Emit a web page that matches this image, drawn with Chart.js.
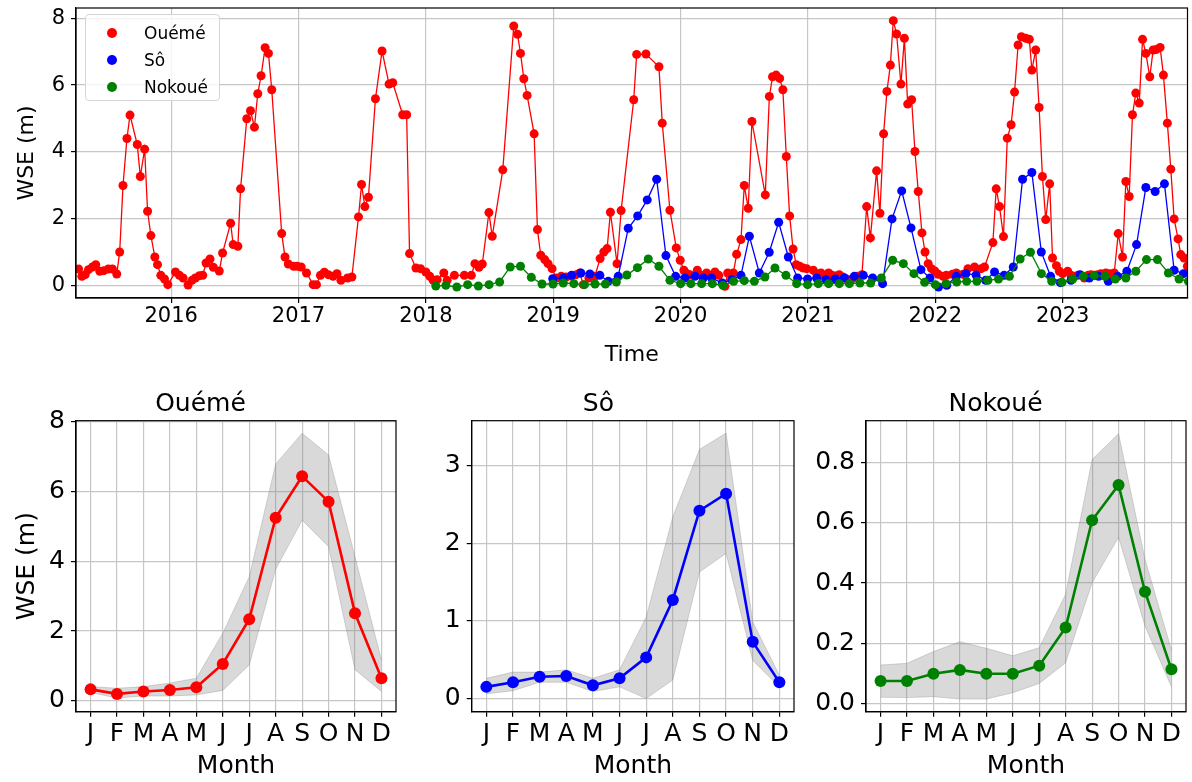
<!DOCTYPE html>
<html>
<head>
<meta charset="utf-8">
<script src="https://cdn.jsdelivr.net/npm/chart.js@4.4.1/dist/chart.umd.min.js"></script>
<style>
  html, body { margin: 0; padding: 0; background: #fff; }
  #page { position: relative; width: 1192px; height: 782px; overflow: hidden; font-family: 'DejaVu Sans', sans-serif; }
  canvas { position: absolute; }
  #legend { position: absolute; left: 85px; top: 14px; width: 135px; height: 87px; border: 1px solid #d5d5d5;
            border-radius: 4px; background: rgba(255,255,255,0.8); box-sizing: border-box; z-index: 2; }
  .item { position: absolute; left: 0; height: 20px; font-size: 17px; line-height: 20px; color: #000; }
  .dot { position: absolute; width: 10px; height: 10px; border-radius: 50%; left: 21px; top: 5px; }
  .lab { position: absolute; left: 58px; top: 0; white-space: nowrap; }
</style>
</head>
<body>
<div id="page">
  <canvas id="top" width="1192" height="380" style="left:0;top:0"></canvas>
  <canvas id="m1" width="402" height="402" style="left:0;top:380px"></canvas>
  <canvas id="m2" width="400" height="402" style="left:400px;top:380px"></canvas>
  <canvas id="m3" width="392" height="402" style="left:800px;top:380px"></canvas>
  <div id="legend"></div>
</div>
<script>
// ---- time series (decimal year, WSE in m) ----
const ouemeT = [2015.273,2015.299,2015.325,2015.351,2015.382,2015.408,2015.440,2015.471,2015.507,2015.539,2015.573,2015.596,2015.622,2015.653,2015.677,2015.734,2015.758,2015.792,2015.815,2015.841,2015.872,2015.893,2015.919,2015.948,2015.974,
  2016.034,2016.065,2016.094,2016.133,2016.164,2016.190,2016.222,2016.248,2016.274,2016.305,2016.331,2016.378,2016.404,2016.467,2016.487,2016.524,2016.545,2016.594,2016.623,2016.654,2016.680,2016.706,2016.738,2016.764,2016.790,2016.868,2016.894,2016.920,2016.962,2016.990,
  2017.021,2017.063,2017.115,2017.141,2017.172,2017.203,2017.234,2017.271,2017.302,2017.333,2017.385,2017.419,2017.471,2017.495,2017.521,2017.549,2017.604,2017.656,2017.711,2017.740,2017.818,2017.849,2017.872,2017.922,2017.958,
  2018.000,2018.031,2018.057,2018.089,2018.141,2018.167,2018.224,2018.302,2018.357,2018.385,2018.417,2018.443,2018.495,2018.521,2018.604,2018.690,2018.720,2018.743,2018.769,2018.795,2018.850,2018.876,2018.902,2018.933,2018.959,2018.991,
  2019.024,2019.063,2019.100,2019.144,2019.180,2019.209,2019.236,2019.280,2019.327,2019.368,2019.397,2019.423,2019.449,2019.501,2019.533,2019.632,2019.655,2019.728,2019.830,2019.856,2019.916,2019.966,2019.997,
  2020.026,2020.050,2020.073,2020.131,2020.160,2020.204,2020.240,2020.270,2020.300,2020.348,2020.370,2020.414,2020.440,2020.474,2020.500,2020.531,2020.560,2020.665,2020.697,2020.722,2020.750,2020.778,2020.803,2020.830,2020.856,2020.883,2020.908,2020.935,2020.963,2020.990,
  2021.042,2021.070,2021.102,2021.130,2021.162,2021.190,2021.220,2021.246,2021.275,2021.300,2021.325,2021.350,2021.390,2021.424,2021.461,2021.490,2021.539,2021.565,2021.594,2021.620,2021.647,2021.670,2021.696,2021.730,2021.757,2021.783,2021.814,2021.840,2021.866,2021.895,2021.919,2021.944,2021.970,2021.996,
  2022.022,2022.061,2022.087,2022.134,2022.165,2022.217,2022.256,2022.308,2022.360,2022.386,2022.452,2022.478,2022.504,2022.535,2022.565,2022.595,2022.622,2022.650,2022.676,2022.710,2022.738,2022.758,2022.788,2022.815,2022.841,2022.867,2022.898,2022.920,2022.951,2022.974,
  2023.000,2023.039,2023.065,2023.091,2023.120,2023.170,2023.200,2023.222,2023.250,2023.274,2023.300,2023.339,2023.370,2023.405,2023.436,2023.470,2023.496,2023.522,2023.548,2023.574,2023.601,2023.627,2023.653,2023.684,2023.710,2023.736,2023.765,2023.791,2023.822,2023.849,2023.875,2023.906,2023.927,2023.953,2023.979,2023.995];
const ouemeV = [0.49,0.27,0.32,0.47,0.55,0.62,0.42,0.44,0.49,0.49,0.34,1.00,2.99,4.40,5.10,4.22,3.26,4.08,2.22,1.49,0.85,0.62,0.30,0.19,0.02,
  0.40,0.30,0.22,0.01,0.15,0.22,0.29,0.30,0.67,0.79,0.54,0.43,0.97,1.86,1.22,1.17,2.89,4.99,5.23,4.74,5.74,6.28,7.12,6.95,5.86,1.55,0.85,0.64,0.57,0.57,
  0.55,0.37,0.02,0.02,0.30,0.39,0.32,0.27,0.35,0.15,0.22,0.25,2.05,3.02,2.36,2.64,5.59,7.02,6.03,6.07,5.11,5.11,0.95,0.52,0.50,
  0.40,0.27,0.15,0.17,0.37,0.15,0.30,0.30,0.30,0.65,0.54,0.64,2.18,1.47,3.46,7.77,7.52,6.95,6.19,5.69,4.54,1.67,0.90,0.77,0.65,0.50,
  0.22,0.27,0.25,0.28,0.32,0.37,0.02,0.22,0.27,0.80,1.00,1.10,2.19,0.65,2.24,5.56,6.92,6.93,6.55,4.86,2.25,1.12,0.75,
  0.45,0.35,0.32,0.45,0.30,0.37,0.30,0.40,0.30,-0.03,0.37,0.37,0.93,1.37,2.99,2.31,4.91,2.71,5.66,6.25,6.30,6.20,5.86,3.86,2.08,1.09,0.62,0.57,0.52,0.50,
  0.45,0.35,0.37,0.30,0.37,0.30,0.28,0.32,0.25,0.20,0.12,0.20,0.27,0.32,2.36,1.42,3.43,2.16,4.54,5.81,6.60,7.93,7.53,6.03,7.40,5.43,5.56,4.01,2.81,1.57,1.00,0.65,0.50,0.43,
  0.33,0.27,0.30,0.33,0.37,0.33,0.50,0.55,0.50,0.55,1.28,2.89,2.36,1.46,4.41,4.81,5.79,7.20,7.45,7.40,7.37,6.45,7.05,5.33,3.26,1.97,3.04,0.82,0.59,0.42,
  0.35,0.42,0.30,0.27,0.30,0.22,0.30,0.32,0.30,0.32,0.35,0.37,0.35,0.37,1.55,0.85,3.11,2.66,5.11,5.76,5.46,7.37,6.95,6.25,7.05,7.07,7.13,6.30,4.86,3.48,1.99,1.39,0.92,0.82,0.57,0.45];

const soT = [2018.996,2019.079,2019.144,2019.217,2019.288,2019.366,2019.432,2019.510,2019.589,2019.663,2019.738,2019.812,2019.885,2019.961,
  2020.034,2020.113,2020.178,2020.243,2020.327,2020.401,2020.474,2020.540,2020.618,2020.696,2020.770,2020.846,2020.919,2020.997,
  2021.068,2021.141,2021.215,2021.285,2021.364,2021.435,2021.508,2021.586,2021.660,2021.736,2021.809,2021.887,2021.958,
  2022.025,2022.090,2022.165,2022.240,2022.320,2022.395,2022.465,2022.540,2022.612,2022.685,2022.758,2022.832,2022.905,2022.982,
  2023.065,2023.136,2023.209,2023.282,2023.358,2023.431,2023.504,2023.580,2023.653,2023.726,2023.799,2023.875,2023.948];
const soV = [0.20,0.22,0.30,0.37,0.34,0.30,0.12,0.27,1.71,2.08,2.56,3.18,0.89,0.27,
  0.22,0.27,0.22,0.22,0.07,0.17,0.30,1.47,0.37,0.99,1.89,0.85,0.22,0.19,
  0.22,0.17,0.19,0.22,0.27,0.30,0.22,0.05,1.99,2.83,1.72,0.47,0.22,
  -0.05,0.00,0.27,0.35,0.31,0.15,0.40,0.30,0.55,3.18,3.38,1.00,0.27,0.08,
  0.15,0.32,0.22,0.27,0.12,0.27,0.42,1.22,2.93,2.81,3.04,0.45,0.35];

const nokoueT = [2018.078,2018.157,2018.243,2018.328,2018.412,2018.496,2018.579,2018.662,2018.743,2018.828,2018.912,2018.998,
  2019.079,2019.162,2019.245,2019.328,2019.410,2019.496,2019.578,2019.661,2019.746,2019.830,2019.916,2020.000,
  2020.081,2020.165,2020.249,2020.332,2020.416,2020.500,2020.579,2020.662,2020.741,2020.827,2020.911,2020.997,
  2021.081,2021.162,2021.246,2021.325,2021.408,2021.492,2021.576,2021.665,2021.749,2021.832,2021.916,2022.000,
  2022.084,2022.168,2022.246,2022.326,2022.413,2022.496,2022.582,2022.666,2022.747,2022.833,2022.914,2022.995,
  2023.078,2023.162,2023.248,2023.332,2023.413,2023.496,2023.574,2023.658,2023.744,2023.830,2023.914,2023.987];
const nokoueV = [-0.02,0.00,-0.05,0.02,-0.02,0.02,0.10,0.55,0.57,0.24,0.04,0.04,
  0.07,0.05,0.02,0.04,0.04,0.10,0.31,0.53,0.79,0.57,0.15,0.05,
  0.05,0.05,0.05,0.00,0.12,0.14,0.12,0.25,0.52,0.30,0.05,0.02,
  0.05,0.05,0.05,0.05,0.07,0.07,0.22,0.75,0.65,0.35,0.09,0.02,
  0.05,0.10,0.12,0.12,0.15,0.19,0.27,0.79,0.99,0.35,0.12,0.09,
  0.19,0.27,0.29,0.27,0.19,0.22,0.42,0.77,0.77,0.37,0.19,0.12];

const seriesNames = ['Ouémé', 'Sô', 'Nokoué'];
const seriesColors = ['#ff0000', '#0000ff', '#008000'];
const seriesT = [ouemeT, soT, nokoueT];
const seriesV = [ouemeV, soV, nokoueV];

const yearTicks = [2016, 2017, 2018, 2019, 2020, 2021, 2022, 2023];
const wseTicksTop = [0, 2, 4, 6, 8];

// ---- monthly climatology: mean and envelope ----
const months = [1, 2, 3, 4, 5, 6, 7, 8, 9, 10, 11, 12];
const monthLabels = ['J', 'F', 'M', 'A', 'M', 'J', 'J', 'A', 'S', 'O', 'N', 'D'];

const ouemeMean  = [0.33, 0.20, 0.27, 0.31, 0.39, 1.06, 2.34, 5.25, 6.44, 5.71, 2.51, 0.65];
const ouemeUpper = [0.41, 0.36, 0.41, 0.51, 0.65, 1.94, 3.56, 6.79, 7.67, 7.05, 4.13, 1.17];
const ouemeLower = [0.24, 0.08, 0.14, 0.14, 0.17, 0.30, 1.03, 3.77, 5.18, 4.42, 0.89, 0.27];

const soMean  = [0.15, 0.21, 0.28, 0.29, 0.17, 0.26, 0.53, 1.27, 2.42, 2.64, 0.73, 0.21];
const soUpper = [0.26, 0.34, 0.34, 0.37, 0.26, 0.37, 1.05, 2.34, 3.21, 3.42, 0.99, 0.30];
const soLower = [0.06, 0.10, 0.21, 0.21, 0.09, 0.15, 0.00, 0.24, 1.63, 1.87, 0.49, 0.15];

const nokoueMean  = [0.074, 0.074, 0.098, 0.111, 0.098, 0.098, 0.125, 0.252, 0.609, 0.726, 0.371, 0.113];
const nokoueUpper = [0.127, 0.133, 0.172, 0.205, 0.183, 0.158, 0.185, 0.363, 0.811, 0.897, 0.479, 0.177];
const nokoueLower = [0.020, 0.019, 0.022, 0.014, 0.014, 0.035, 0.066, 0.135, 0.401, 0.552, 0.257, 0.055];

const ouemeTicks = [0, 2, 4, 6, 8];
const soTicks = [0, 1, 2, 3];
const nokoueTicks = [0, 0.2, 0.4, 0.6, 0.8];

Chart.defaults.font.family = "'DejaVu Sans', sans-serif";
Chart.defaults.color = '#000';

const gridColor = '#c6c6c6';

// matplotlib style box around the axes
const frame = {
  id: 'frame',
  afterDraw(chart) {
    const { ctx, chartArea: a } = chart;
    ctx.save();
    ctx.strokeStyle = '#000';
    ctx.lineWidth = 1.2;
    ctx.strokeRect(a.left, a.top, a.right - a.left, a.bottom - a.top);
    ctx.restore();
  }
};

const fixedTicks = values => scale => { scale.ticks = values.map(v => ({ value: v })); };
const pts = (xs, ys) => xs.map((x, i) => ({ x: x, y: ys[i] }));

// top panel
new Chart(document.getElementById('top'), {
  type: 'scatter',
  data: {
    datasets: seriesNames.map((name, k) => ({
      label: name,
      data: pts(seriesT[k], seriesV[k]),
      showLine: true,
      borderColor: seriesColors[k],
      backgroundColor: seriesColors[k],
      borderWidth: 1.3,
      pointRadius: 4.5,
      pointBorderWidth: 0,
      order: 3 - k
    }))
  },
  options: {
    responsive: false,
    animation: false,
    devicePixelRatio: 1,
    layout: { padding: { top: 8, right: 2, left: 0, bottom: 0 } },
    plugins: { legend: { display: false }, tooltip: { enabled: false } },
    scales: {
      x: {
        type: 'linear',
        min: 2015.253,
        max: 2023.98,
        afterBuildTicks: fixedTicks(yearTicks),
        afterFit: s => { s.height = 82; s.paddingLeft = 0; s.paddingRight = 0; },
        ticks: { font: { size: 21 }, padding: 1, callback: v => String(v) },
        grid: { color: gridColor, lineWidth: 1.2, tickColor: '#000', tickLength: 5 },
        border: { color: '#000', width: 1.2 },
        title: { display: true, text: 'Time', font: { size: 22 }, padding: { top: 0, bottom: 12 } }
      },
      y: {
        min: -0.38,
        max: 8.31,
        afterBuildTicks: fixedTicks(wseTicksTop),
        afterFit: s => { s.width = 76; s.paddingTop = 0; s.paddingBottom = 0; },
        ticks: { font: { size: 21 }, padding: 6 },
        grid: { color: gridColor, lineWidth: 1.2, tickColor: '#000', tickLength: 5 },
        border: { color: '#000', width: 1.2 },
        title: { display: true, text: 'WSE (m)', font: { size: 22 }, padding: { top: 14, bottom: 0 } }
      }
    }
  },
  plugins: [frame]
});

// legend
const legend = document.getElementById('legend');
seriesNames.forEach((name, k) => {
  const item = document.createElement('div');
  item.className = 'item';
  item.style.top = (8 + k * 27) + 'px';
  item.style.width = '100%';
  item.innerHTML = '<span class="dot" style="background:' + seriesColors[k] + '"></span><span class="lab">' + name + '</span>';
  legend.appendChild(item);
});

// bottom panels
function monthly(id, name, color, mean, upper, lower, yMin, yMax, yTicks, fmt, yWidth, padRight, yTitle) {
  new Chart(document.getElementById(id), {
    type: 'scatter',
    data: {
      datasets: [
        { label: name, data: pts(months, mean), showLine: true, borderColor: color, backgroundColor: color,
          borderWidth: 2.6, pointRadius: 6, pointBorderWidth: 0 },
        { label: 'upper', data: pts(months, upper), showLine: true, fill: '+1', pointRadius: 0,
          borderColor: 'rgba(128,128,128,0.3)', borderWidth: 1, backgroundColor: 'rgba(128,128,128,0.3)' },
        { label: 'lower', data: pts(months, lower), showLine: true, pointRadius: 0,
          borderColor: 'rgba(128,128,128,0.3)', borderWidth: 1 }
      ]
    },
    options: {
      responsive: false,
      animation: false,
      devicePixelRatio: 1,
      layout: { padding: { top: 0, right: padRight, left: 0, bottom: 0 } },
      plugins: {
        legend: { display: false },
        tooltip: { enabled: false },
        title: { display: true, text: name, font: { size: 25, weight: 'normal' }, color: '#000', padding: { top: 9, bottom: 1.7 } }
      },
      scales: {
        x: {
          type: 'linear',
          min: 0.45,
          max: 12.55,
          afterBuildTicks: fixedTicks(months),
          afterFit: s => { s.height = 70.3; s.paddingLeft = 0; s.paddingRight = 0; },
          ticks: { font: { size: 25 }, padding: 3, callback: v => monthLabels[v - 1] },
          grid: { color: gridColor, lineWidth: 1.2, tickColor: '#000', tickLength: 5 },
          border: { color: '#000', width: 1.2 },
          title: { display: true, text: 'Month', font: { size: 25 }, padding: { top: 0, bottom: 1 } }
        },
        y: {
          min: yMin,
          max: yMax,
          afterBuildTicks: fixedTicks(yTicks),
          afterFit: s => { s.width = yWidth; s.paddingTop = 0; s.paddingBottom = 0; },
          ticks: { font: { size: 25 }, padding: 6, callback: fmt },
          grid: { color: gridColor, lineWidth: 1.2, tickColor: '#000', tickLength: 5 },
          border: { color: '#000', width: 1.2 },
          title: { display: yTitle, text: 'WSE (m)', font: { size: 25 }, padding: { top: 12, bottom: 0 } }
        }
      }
    },
    plugins: [frame]
  });
}

monthly('m1', 'Ouémé', '#ff0000', ouemeMean, ouemeUpper, ouemeLower, -0.31, 8.03, ouemeTicks, v => String(v), 76, 1, true);
monthly('m2', 'Sô', '#0000ff', soMean, soUpper, soLower, -0.17, 3.58, soTicks, v => String(v), 71.7, 3.3, false);
monthly('m3', 'Nokoué', '#008000', nokoueMean, nokoueUpper, nokoueLower, -0.028, 0.94, nokoueTicks, v => v.toFixed(1), 66, 1, false);
</script>
</body>
</html>
